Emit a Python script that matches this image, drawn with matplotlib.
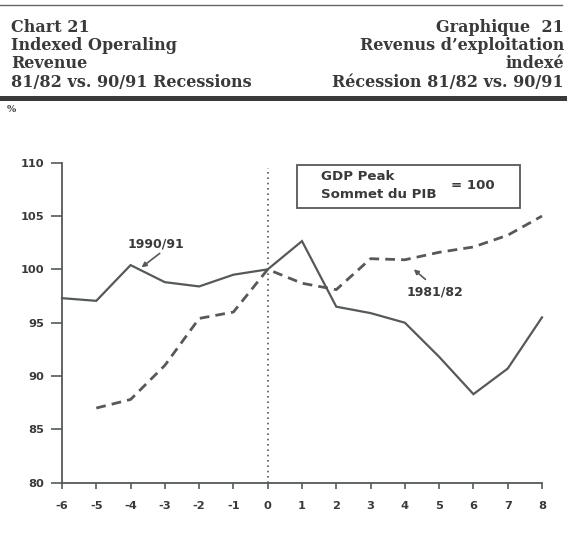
import matplotlib
matplotlib.use("Agg")
import matplotlib.pyplot as plt
from matplotlib.lines import Line2D
from matplotlib.patches import Rectangle

quarters = [-6, -5, -4, -3, -2, -1, 0, 1, 2, 3, 4, 5, 6, 7, 8]
rev_9091 = [97.3, 97.05, 100.4, 98.8, 98.4, 99.5, 100.0, 102.65, 96.5, 95.9, 95.0, 91.8, 88.3, 90.7, 95.5]
quarters_8182 = [-5, -4, -3, -2, -1, 0, 1, 2, 3, 4, 5, 6, 7, 8]
rev_8182 = [87.0, 87.8, 91.0, 95.4, 96.0, 100.0, 98.7, 98.1, 101.0, 100.9, 101.6, 102.1, 103.2, 105.0]
yticks = [80, 85, 90, 95, 100, 105, 110]
xticks = quarters

LINE = "#555a57"
TXT = "#3a3a3a"

fig = plt.figure(figsize=(5.71, 5.35), dpi=100)
fig.patch.set_facecolor("white")

# header
serif = ["DejaVu Serif"]
left_lines = ["Chart 21", "Indexed Operaling", "Revenue", "81/82 vs. 90/91 Recessions"]
right_lines = ["Graphique  21", "Revenus d\u2019exploitation", "indexé", "Récession 81/82 vs. 90/91"]
ys = [27, 45.5, 64, 82.5]
for t, y in zip(left_lines, ys):
    fig.text(11 / 571, 1 - y / 535, t, ha="left", va="center", family=serif,
             fontweight="bold", fontsize=11.5, color=TXT)
for t, y in zip(right_lines, ys):
    fig.text(564 / 571, 1 - y / 535, t, ha="right", va="center", family=serif,
             fontweight="bold", fontsize=11.5, color=TXT)
fig.add_artist(Line2D([0.0, 562 / 571], [1 - 5 / 535, 1 - 5 / 535], color="#666666", lw=1.0))
fig.add_artist(Rectangle((0.0, 1 - 101 / 535), 567 / 571, 5 / 535, color="#3a3a3a", lw=0))
fig.text(7 / 571, 1 - 109 / 535, "%", ha="left", va="center", family=serif,
         fontsize=7, fontweight="bold", color=TXT)

ax = fig.add_axes([62 / 571, 1 - 482.7 / 535, (542 - 62) / 571, (482.7 - 162.7) / 535])
ax.set_xlim(-6, 8)
ax.set_ylim(80, 110)
for s in ["top", "right"]:
    ax.spines[s].set_visible(False)
for s in ["left", "bottom"]:
    ax.spines[s].set_color(LINE)
    ax.spines[s].set_linewidth(1.3)
ax.set_xticks(xticks)
ax.set_yticks(yticks)
ax.tick_params(axis="y", direction="out", length=8, width=1.2, color=LINE, pad=5)
ax.tick_params(axis="x", direction="out", length=4, width=1.2, color=LINE, pad=9)
sans = ["DejaVu Sans"]
ax.set_xticklabels([str(v) for v in xticks], family=sans, fontweight="bold",
                   fontsize=8.2, color=TXT)
ax.set_yticklabels([str(v) for v in yticks], family=sans, fontweight="bold",
                   fontsize=8.2, color=TXT)

ax.axvline(0, ymax=0.985, color=LINE, lw=1.2, linestyle=(0, (1, 2.2)))
ax.plot(quarters, rev_9091, color=LINE, lw=1.6, solid_joinstyle="miter", clip_on=False)
ax.plot(quarters_8182, rev_8182, color=LINE, lw=2.0, linestyle=(0, (3.5, 2.2)),
        clip_on=False)

# legend-like box
ax.add_patch(Rectangle((0.85, 105.72), 6.51, 4.06, fill=False,
                       edgecolor=LINE, lw=1.3, clip_on=False))
ax.text(1.55, 108.7, "GDP Peak", family=sans, fontweight="bold", fontsize=9.6,
        color=TXT, va="center", ha="left")
ax.text(1.55, 107.0, "Sommet du PIB", family=sans, fontweight="bold", fontsize=9.6,
        color=TXT, va="center", ha="left")
ax.text(5.35, 107.9, "= 100", family=sans, fontweight="bold", fontsize=9.6,
        color=TXT, va="center", ha="left")

ax.text(-3.27, 102.37, "1990/91", family=sans, fontweight="bold", fontsize=9,
        color=TXT, ha="center", va="center")
ax.annotate("", xy=(-3.68, 100.19), xytext=(-3.15, 101.5),
            arrowprops=dict(arrowstyle="-|>", color=LINE, lw=1.2,
                            mutation_scale=7, shrinkA=0, shrinkB=0))
ax.text(4.89, 97.9, "1981/82", family=sans, fontweight="bold", fontsize=9,
        color=TXT, ha="center", va="center")
ax.annotate("", xy=(4.26, 100.0), xytext=(4.6, 99.06),
            arrowprops=dict(arrowstyle="-|>", color=LINE, lw=1.2,
                            mutation_scale=7, shrinkA=0, shrinkB=0))

fig.savefig("out.png", dpi=100, facecolor="white")
